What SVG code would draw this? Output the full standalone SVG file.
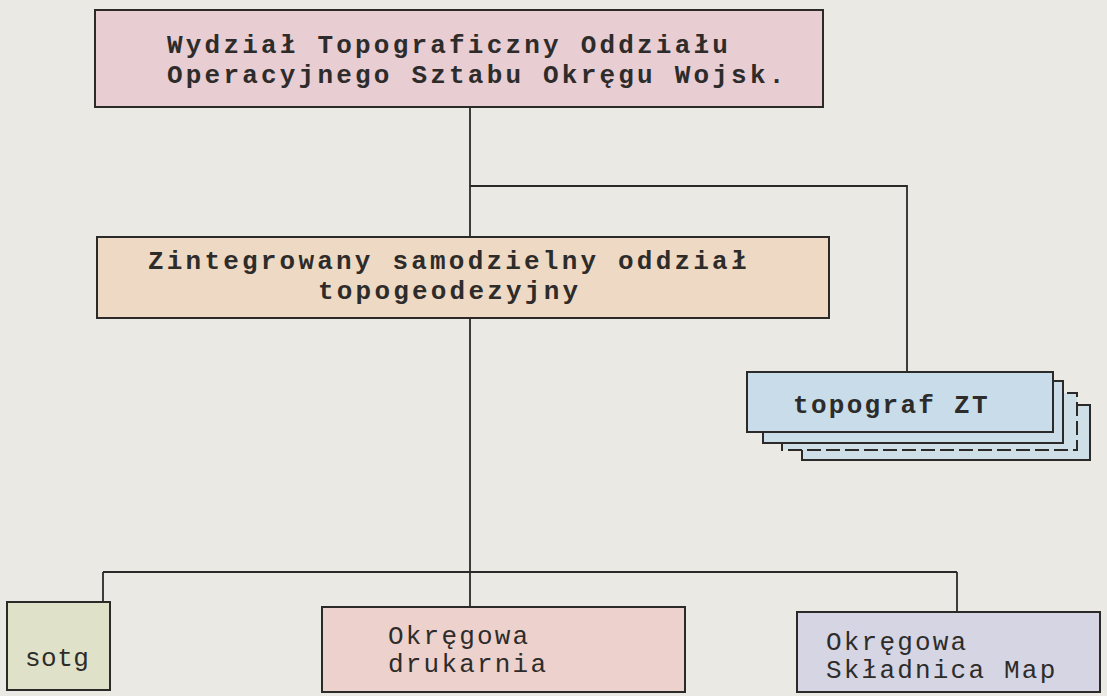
<svg xmlns="http://www.w3.org/2000/svg" width="1107" height="696" viewBox="0 0 1107 696">
<style>
.box{stroke:#2b2a28;stroke-width:2}
.t{font-family:"Liberation Mono","Courier New",monospace;font-weight:bold;fill:#2e2c2a;font-size:26px;letter-spacing:3.2px}
.tb{font-family:"Liberation Mono","Courier New",monospace;fill:#2e2c2a;font-size:26px;letter-spacing:2.2px}
.ln{fill:none;stroke:#2b2a28;stroke-width:1.8}
</style>
<rect width="1107" height="696" fill="#eae9e4"/>
<g id="connectors" class="ln">
<path d="M470 107 V237"/>
<path d="M470 186 H907 V372"/>
<path d="M470 318 V572"/>
<path d="M103 572 H957"/>
<path d="M103 572 V602"/>
<path d="M470 572 V607"/>
<path d="M957 572 V612"/>
</g>
<g id="wydzial">
<rect class="box" x="95" y="10" width="728" height="97" fill="#e8cdd3"/>
<text class="t" x="167" y="53">Wydział Topograficzny Oddziału</text>
<text class="t" x="167" y="83">Operacyjnego Sztabu Okręgu Wojsk.</text>
</g>
<g id="zintegrowany">
<rect class="box" x="97" y="237" width="732" height="81" fill="#eedac4"/>
<text class="t" x="148" y="269">Zintegrowany samodzielny oddział</text>
<text class="t" x="318" y="299">topogeodezyjny</text>
</g>
<g id="topograf">
<rect class="box" x="802" y="405" width="288" height="55" fill="#cfdfe8"/>
<rect class="box" x="782" y="393" width="295" height="57" fill="#cfdfe8" stroke-dasharray="14 5"/>
<rect class="box" x="763" y="381" width="300" height="62" fill="#cadde9"/>
<rect class="box" x="747" y="372" width="306" height="60" fill="#c9dcea"/>
<text class="t" x="793" y="413" style="letter-spacing:2.3px">topograf ZT</text>
</g>
<g id="sotg">
<rect class="box" x="7" y="602" width="103" height="88" fill="#dfe2c9"/>
<text class="tb" x="25" y="666" style="letter-spacing:0.5px">sotg</text>
</g>
<g id="drukarnia">
<rect class="box" x="322" y="607" width="363" height="85" fill="#ecd1cd"/>
<text class="tb" x="388" y="644">Okręgowa</text>
<text class="tb" x="388" y="672">drukarnia</text>
</g>
<g id="skladnica">
<rect class="box" x="797" y="612" width="303" height="80" fill="#d5d5e4"/>
<text class="tb" x="826" y="650">Okręgowa</text>
<text class="tb" x="826" y="678">Składnica Map</text>
</g>
</svg>
